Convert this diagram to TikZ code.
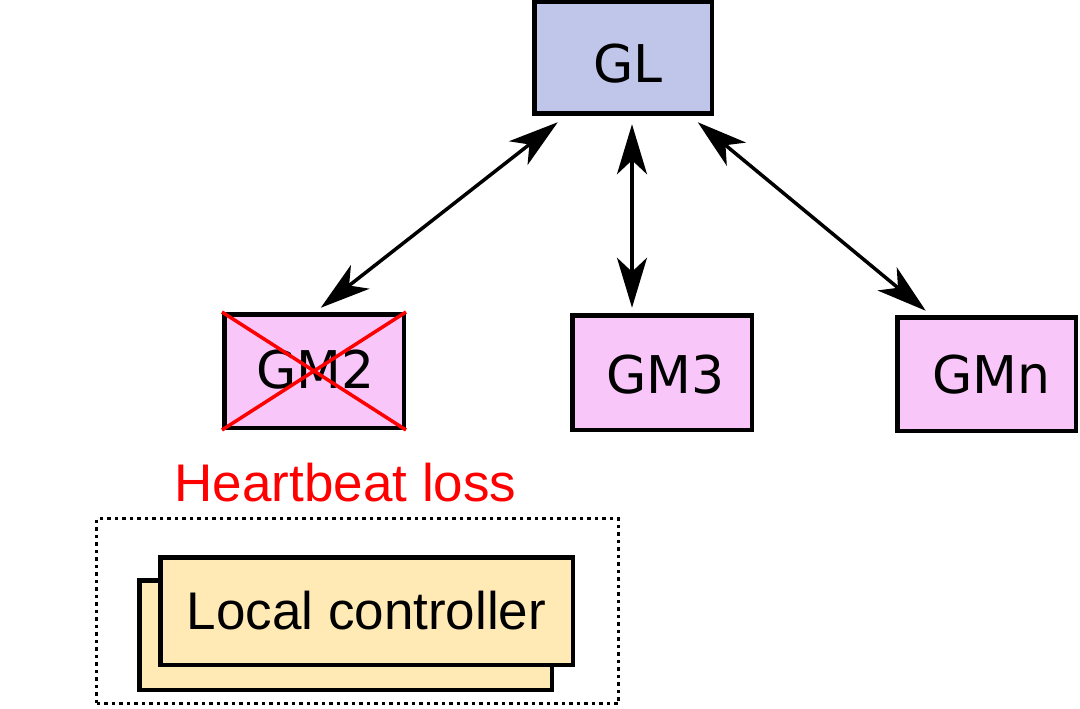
\documentclass[tikz,border=0pt]{standalone}
\usepackage{fontspec}
\setmainfont{DejaVu Sans}
\newfontfamily\arialfont{Liberation Sans}
\usetikzlibrary{arrows.meta}
\definecolor{glfill}{HTML}{C0C6EA}
\definecolor{gmfill}{HTML}{F9C6F9}
\definecolor{lcfill}{HTML}{FFE9B5}
\definecolor{hbred}{HTML}{FF0000}
\tikzset{
  box/.style={draw=black, line width=4.5pt, inner sep=0pt},
  txt/.style={font=\fontsize{52}{60}\selectfont, text=black, inner sep=0pt},
  glbox/.style={box, fill=glfill},
  gmbox/.style={box, fill=gmfill},
  lcbox/.style={box, fill=lcfill, minimum width=412.5pt, font=\arialfont\fontsize{53}{60}\selectfont, text=black},
  dbl/.style={line width=3.5pt, {Stealth[length=50pt,width=30pt,inset=14pt]}-{Stealth[length=50pt,width=30pt,inset=14pt]}},
  crossline/.style={draw=hbred, line width=3.5pt},
  frame/.style={draw=black, line width=3.5pt, dash pattern=on 3.5pt off 4pt, minimum width=522pt, minimum height=185pt, inner sep=0pt}
}
\begin{document}
\begin{tikzpicture}[x=1pt,y=-1pt]
\useasboundingbox (0,0) rectangle (1080,709);
\node[glbox, minimum width=177.5pt, minimum height=111.5pt,
  label={[txt, xshift=5pt, yshift=-6pt]center:GL}] (gl) at (623,58) {};
\node[gmbox, minimum width=179.5pt, minimum height=113.5pt,
  label={[txt, xshift=1.5pt, yshift=1pt]center:GM2}] (gm2) at (314,371) {};
\node[gmbox, minimum width=179.5pt, minimum height=114.5pt,
  label={[txt, xshift=3.5pt, yshift=-2pt]center:GM3}] (gm3) at (662,372.5) {};
\node[gmbox, minimum width=178.5pt, minimum height=113.5pt,
  label={[txt, xshift=5pt, yshift=-1pt]center:GMn}] (gmn) at (986.5,374) {};
\draw[crossline] (gm2.north west) -- (gm2.south east);
\draw[crossline] (gm2.south west) -- (gm2.north east);
\node[text=hbred, font=\arialfont\fontsize{53}{60}\selectfont, inner sep=0pt, anchor=base] (hb) at (345.5,501) {Heartbeat loss};
\node[frame] (fr) at (357.5,611) {};
\node[lcbox, minimum height=109.5pt] (lcback) at (345.5,635) {};
\node[lcbox, minimum height=107.5pt] (lc) at (366.5,611) {Local controller};
\draw[dbl] ([xshift=25.75pt,yshift=-6.25pt]gl.south west) -- ([xshift=98.75pt,yshift=4.25pt]gm2.north west);
\draw[dbl] ([xshift=100pt,yshift=-8.25pt]gl.south west) -- ([xshift=62pt,yshift=5.25pt]gm3.north west);
\draw[dbl] ([xshift=165.75pt,yshift=-6.25pt]gl.south west) -- ([xshift=30.75pt,yshift=4.25pt]gmn.north west);
\end{tikzpicture}
\end{document}
